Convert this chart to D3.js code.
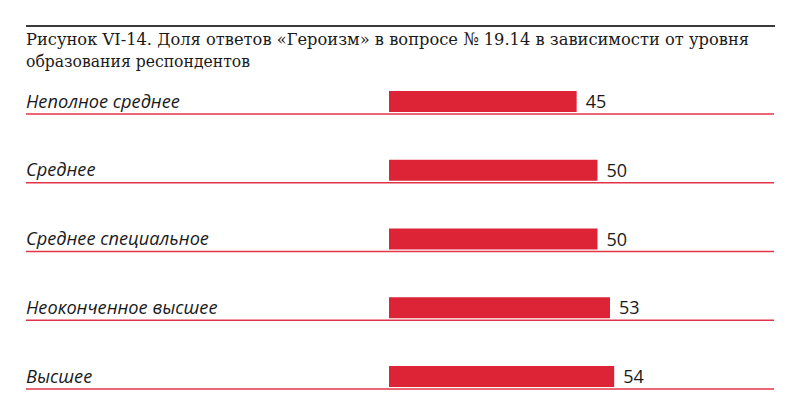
<!DOCTYPE html>
<html><head><meta charset="utf-8">
<script src="https://cdn.jsdelivr.net/npm/d3@7"></script>
<style>html,body{margin:0;padding:0;background:#fff;}</style>
</head><body>
<script>
const titleLines = ["Рисунок VI-14. Доля ответов «Героизм» в вопросе № 19.14 в зависимости от уровня", "образования респондентов"];
const titleWidths = [723, 224];
const categories = ["Неполное среднее", "Среднее", "Среднее специальное", "Неоконченное высшее", "Высшее"];
const values = [45, 50, 50, 53, 54];

const W = 800, H = 415;
const svg = d3.select("body").append("svg").attr("width", W).attr("height", H);

// top rule
svg.append("line").attr("x1", 26).attr("x2", 775).attr("y1", 26).attr("y2", 26)
  .attr("stroke", "#3a3a3a").attr("stroke-width", 2.2);

// title
const title = svg.append("g");
titleLines.forEach((t, i) => {
  title.append("text").attr("x", 26).attr("y", 44.5 + i * 22.3)
    .attr("font-family", "'DejaVu Serif', 'Liberation Serif', serif")
    .attr("font-size", 17.4).attr("fill", "#1a1a1a")
    .attr("textLength", titleWidths[i]).attr("lengthAdjust", "spacingAndGlyphs")
    .text(t);
});

const x = d3.scaleLinear().domain([0, 100]).range([389, 806]);
const y = d3.scaleBand().domain(categories).range([44.75, 388.5]).padding(0);

const rows = svg.selectAll("g.row").data(categories).enter().append("g").attr("class", "row");

rows.append("line")
  .attr("x1", 26).attr("x2", 774)
  .attr("y1", d => y(d) + y.bandwidth() + 0.5)
  .attr("y2", d => y(d) + y.bandwidth() + 0.5)
  .attr("stroke", "#e23449").attr("stroke-width", 1.6);

rows.append("rect")
  .attr("x", x(0))
  .attr("y", d => y(d) + y.bandwidth() - 22.5)
  .attr("width", (d, i) => x(values[i]) - x(0))
  .attr("height", 21)
  .attr("fill", "#dd2437");

rows.append("text")
  .attr("x", 26)
  .attr("y", d => y(d) + y.bandwidth() - 6)
  .attr("font-family", "'Open Sans', sans-serif")
  .attr("font-style", "italic")
  .attr("font-size", 18.2)
  .attr("fill", "#1a1a1a")
  .text(d => d);

rows.append("text")
  .attr("x", (d, i) => x(values[i]) + 9)
  .attr("y", d => y(d) + y.bandwidth() - 5.5)
  .attr("font-family", "'Open Sans', sans-serif")
  .attr("font-size", 18)
  .attr("fill", "#1a1a1a")
  .text((d, i) => values[i]);
</script>
</body></html>
